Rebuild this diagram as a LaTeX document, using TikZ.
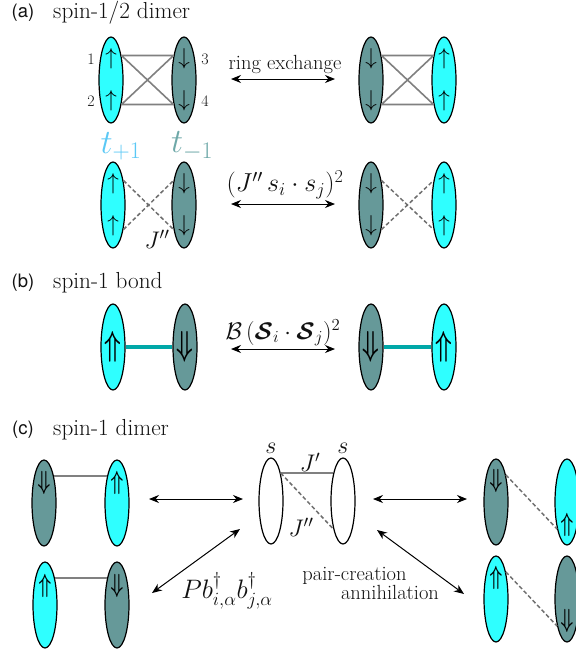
\RequirePackage{fix-cm}
\documentclass[tikz,border=0pt]{standalone}
\usepackage{amsmath,amssymb,bm}
\usepackage[no-math]{fontspec}
\newfontfamily\labfont{TeX Gyre Heros}
\usetikzlibrary{shapes.geometric,arrows.meta}
\definecolor{cy}{HTML}{2FFFFF}
\definecolor{tl}{HTML}{669999}
\definecolor{txt}{HTML}{111111}
\definecolor{bond}{HTML}{00A8A8}
\definecolor{tplus}{HTML}{5AC8F5}
\definecolor{tminus}{HTML}{6EA8A8}
\definecolor{dashc}{HTML}{6E6E6E}
\newcommand{\sz}[1]{\fontsize{#1}{#1}\selectfont}
\newcommand{\narrow}[1]{\scalebox{0.72}[1.05]{$\bm{#1}$}}
\tikzset{
  cyanb/.style={ellipse,draw=black,line width=1.2pt,fill=cy,minimum width=24pt,minimum height=86pt,inner sep=0pt},
  tealb/.style={cyanb,fill=tl},
  whiteb/.style={cyanb,fill=white},
  glyph/.style={inner sep=0pt,text=black},
  sa/.style={glyph,font=\sz{23}},
  da/.style={glyph,font=\sz{33}},
  dc/.style={glyph,font=\sz{25}},
  lab/.style={inner sep=0pt,text=txt,font=\sz{20.5}},
  mlab/.style={inner sep=0pt,text=txt,font=\sz{24}},
  plab/.style={inner sep=0pt,text=txt,font=\labfont\sz{18.5}},
  ttl/.style={inner sep=0pt,anchor=west,text=txt,font=\sz{23.2}},
  num/.style={inner sep=0pt,text=txt,font=\sz{16}},
  solidl/.style={draw=gray,line width=1.6pt},
  dashl/.style={draw=dashc,line width=1.5pt,dash pattern=on 4pt off 2.5pt},
  bondl/.style={draw=bond,line width=3.6pt},
  dbl/.style={{Stealth[length=10pt,width=8pt]}-{Stealth[length=10pt,width=8pt]},line width=1pt,draw=black},
}
\begin{document}
\begin{tikzpicture}[x=1pt,y=-1pt]
\useasboundingbox (0,0) rectangle (576,654);
\clip (0,0) rectangle (576,654);
% titles
\node[plab] (la) at (23,13) {(a)};
\node[ttl] (ta) at (53,13) {spin-1/2 dimer};
\node[plab] (lb) at (23,283) {(b)};
\node[ttl] (tb) at (53,283) {spin-1 bond};
\node[plab] (lc) at (23,430) {(c)};
\node[ttl] (tc) at (53,430) {spin-1 dimer};
% (a) top
\node[cyanb] (a1) at (111,80) {};
\node[tealb] (a2) at (184,80) {};
\node[tealb] (a3) at (371,80) {};
\node[cyanb] (a4) at (444,80) {};
\draw[solidl] (a1.67) -- (a2.113) (a1.-67) -- (a2.-113) (a1.67) -- (a2.-113) (a1.-67) -- (a2.113);
\draw[solidl] (a3.67) -- (a4.113) (a3.-67) -- (a4.-113) (a3.67) -- (a4.-113) (a3.-67) -- (a4.113);
\foreach \n/\x/\y/\g in {p1/111/59/\uparrow,p2/111/101/\uparrow,p3/184/59/\downarrow,p4/184/101/\downarrow,p5/371/59/\downarrow,p6/371/101/\downarrow,p7/444/59/\uparrow,p8/444/101/\uparrow}
  \node[sa] (\n) at (\x,\y) {$\g$};
\node[num] (n1) at (91,59) {1};
\node[num] (n2) at (91,101) {2};
\node[num] (n3) at (205,59) {3};
\node[num] (n4) at (205,101) {4};
\node[lab] (ring) at (285,64) {ring exchange};
\coordinate (r1a) at (231,79); \coordinate (r1b) at (335,79);
\draw[dbl] (r1a) -- (r1b);
\node[inner sep=0pt,font=\sz{34},text=tplus] (tp) at (121,146) {$t_{+1}$};
\node[inner sep=0pt,font=\sz{34},text=tminus] (tm) at (192,146) {$t_{-1}$};
% (a) bottom
\node[cyanb] (b1) at (113,205) {};
\node[tealb] (b2) at (184,205) {};
\node[tealb] (b3) at (371,205) {};
\node[cyanb] (b4) at (444,205) {};
\draw[dashl] (b1.67) -- (b2.-113) (b1.-67) -- (b2.113);
\draw[dashl] (b3.67) -- (b4.-113) (b3.-67) -- (b4.113);
\foreach \n/\x/\y/\g in {q1/113/184/\uparrow,q2/113/226/\uparrow,q3/184/184/\downarrow,q4/184/226/\downarrow,q5/371/184/\downarrow,q6/371/226/\downarrow,q7/444/184/\uparrow,q8/444/226/\uparrow}
  \node[sa] (\n) at (\x,\y) {$\g$};
\node[mlab] (jpp) at (157,239) {$J''$};
\node[mlab,font=\sz{26}] (je) at (285,185) {$(J''\,s_i\cdot s_j)^2$};
\coordinate (r2a) at (231,204); \coordinate (r2b) at (335,204);
\draw[dbl] (r2a) -- (r2b);
% (b)
\node[cyanb] (c1) at (113,347) {};
\node[tealb] (c2) at (185,347) {};
\node[tealb] (c3) at (371,347) {};
\node[cyanb] (c4) at (444,347) {};
\draw[bondl] (c1.east) -- (c2.west);
\draw[bondl] (c3.east) -- (c4.west);
\node[da] (u1) at (113,347) {\narrow{\Uparrow}};
\node[da] (u2) at (185,347) {\narrow{\Downarrow}};
\node[da] (u3) at (371,347) {\narrow{\Downarrow}};
\node[da] (u4) at (444,347) {\narrow{\Uparrow}};
\node[mlab] (be) at (283,333) {$\mathcal{B}\,(\bm{\mathcal{S}}_i\cdot\bm{\mathcal{S}}_j)^2$};
\coordinate (r3a) at (231,349); \coordinate (r3b) at (335,349);
\draw[dbl] (r3a) -- (r3b);
% (c)
\node[tealb] (d1) at (44,503) {};
\node[cyanb] (d2) at (117,503) {};
\node[cyanb] (e1) at (45,605) {};
\node[tealb] (e2) at (117,605) {};
\draw[solidl] (d1.70) -- (d2.110);
\draw[solidl] (e1.70) -- (e2.110);
\node[dc] (v1) at (44,483) {\narrow{\Downarrow}};
\node[dc] (v2) at (117,483) {\narrow{\Uparrow}};
\node[dc] (v3) at (45,586) {\narrow{\Uparrow}};
\node[dc] (v4) at (117,586) {\narrow{\Downarrow}};
\node[whiteb] (s1) at (271,501) {};
\node[whiteb] (s2) at (343,501) {};
\draw[solidl] (s1.71) -- (s2.109);
\draw[dashl] (s1.71) -- (s2.-109);
\node[mlab] (s1l) at (271,448) {$s$};
\node[mlab] (s2l) at (343,448) {$s$};
\node[mlab] (jp) at (310,462) {$J'$};
\node[mlab] (jpb) at (301,527) {$J''$};
\node[tealb] (f1) at (496,502) {};
\node[cyanb] (f2) at (567,502) {};
\node[cyanb] (g1) at (496,599) {};
\node[tealb] (g2) at (567,599) {};
\draw[dashl] (f1.70) -- (f2.-110);
\draw[dashl] (g1.70) -- (g2.-110);
\node[dc] (w1) at (496,481) {\narrow{\Downarrow}};
\node[dc] (w2) at (567,525) {\narrow{\Uparrow}};
\node[dc] (w3) at (496,578) {\narrow{\Uparrow}};
\node[dc] (w4) at (567,621) {\narrow{\Downarrow}};
\coordinate (h1a) at (149,499); \coordinate (h1b) at (243,499);
\coordinate (h2a) at (373,499); \coordinate (h2b) at (467,499);
\coordinate (h3a) at (152,593); \coordinate (h3b) at (240,529);
\coordinate (h4a) at (377,530); \coordinate (h4b) at (464,594);
\draw[dbl] (h1a) -- (h1b);
\draw[dbl] (h2a) -- (h2b);
\draw[dbl] (h3a) -- (h3b);
\draw[dbl] (h4a) -- (h4b);
\node[mlab,font=\sz{26.7}] (pb) at (227,591) {$Pb^\dagger_{i,\alpha}b^\dagger_{j,\alpha}$};
\node[lab] (pc) at (354.5,576) {pair-creation};
\node[lab] (an) at (390,592) {annihilation};
\end{tikzpicture}
\end{document}
